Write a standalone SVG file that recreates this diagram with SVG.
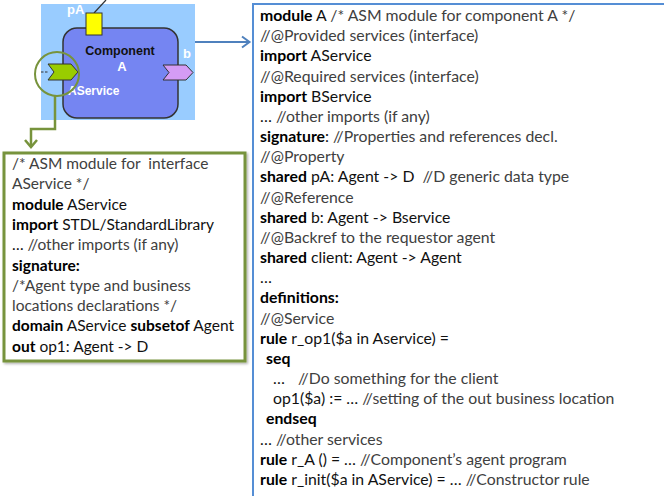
<svg xmlns="http://www.w3.org/2000/svg" width="664" height="496" viewBox="0 0 664 496">
  <defs>
    <style>
      .code { font-family: Lato, "Open Sans", sans-serif; font-size: 15.8px; fill: #111; white-space: pre; }
      .code.small { font-size: 15.5px; }
      .code .k { font-weight: bold; fill: #000; }
      .code .c { fill: #404040; }
      .lbl { font-family: "Liberation Sans", Arial, sans-serif; font-weight: bold; fill: #fff; }
      .green { stroke: #77933c; fill: none; }
      .blue { stroke: #4f81bd; fill: none; }
    </style>
    <filter id="shadow" x="-5%" y="-5%" width="115%" height="115%">
      <feDropShadow dx="1.5" dy="1.5" stdDeviation="1" flood-color="#000" flood-opacity="0.3"/>
    </filter>
  </defs>

  <!-- component A graphic -->
  <g id="component-a">
    <rect x="41" y="4" width="154" height="116" fill="#99ccff"/>
    <line x1="94" y1="13" x2="106" y2="0" stroke="#333" stroke-width="1.2"/>
    <rect x="63" y="28" width="115" height="90" rx="14" fill="#7585f2" stroke="#333" stroke-width="1.5"/>
    <rect x="86" y="13" width="16" height="22" fill="#ffff00" stroke="#333" stroke-width="1"/>
    <text class="lbl" x="67" y="14" font-size="13">pA</text>
    <text x="120" y="55" text-anchor="middle" font-family="Liberation Sans, Arial, sans-serif" font-weight="bold" font-size="12.5" fill="#111">Component</text>
    <text class="lbl" x="122" y="71" font-size="13" text-anchor="middle">A</text>
    <text class="lbl" x="183" y="58" font-size="13">b</text>
    <line x1="41" y1="72" x2="49" y2="72" stroke="#333" stroke-width="1" stroke-dasharray="2.5,1.5"/>
    <polygon points="48,64 71,64 78,72 71,80 48,80 54,72" fill="#99cc00" stroke="#333" stroke-width="1"/>
    <polygon points="163,65 186,65 193,72.5 186,80 163,80 169,72.5" fill="#d49cf5" stroke="#333" stroke-width="1"/>
    <text class="lbl" x="68" y="95" font-size="12">AService</text>
    <circle cx="57" cy="74" r="22" class="green" stroke-width="2"/>
  </g>

  <!-- connectors -->
  <g id="connectors">
    <polyline class="green" stroke-width="2.5" points="55,96 55,129 31,129 31,146"/>
    <polyline class="green" stroke-width="2.5" points="25,140 31,147 37,140"/>
    <line class="blue" stroke-width="2" x1="195" y1="42" x2="249" y2="42"/>
    <polyline class="blue" stroke-width="2" points="242,36.5 249.5,42 242,47.5"/>
  </g>

  <!-- ASM module for interface AService -->
  <g id="aservice-module">
    <rect x="4" y="153" width="241" height="208" fill="#fff" stroke="#77933c" stroke-width="3" filter="url(#shadow)"/>
    <text class="code small">
      <tspan x="12" y="169" class="c">/* ASM module for  interface</tspan>
      <tspan x="12" y="189.3" class="c">AService */</tspan>
      <tspan x="12" y="209.6"><tspan class="k">module</tspan> AService</tspan>
      <tspan x="12" y="229.9"><tspan class="k">import</tspan> STDL/StandardLibrary</tspan>
      <tspan x="12" y="250.2">… <tspan class="c">//other imports (if any)</tspan></tspan>
      <tspan x="12" y="270.5" class="k">signature:</tspan>
      <tspan x="12" y="290.8" class="c">/*Agent type and business</tspan>
      <tspan x="12" y="311.1" class="c">locations declarations */</tspan>
      <tspan x="12" y="331.4"><tspan class="k">domain</tspan> AService <tspan class="k">subsetof</tspan> Agent</tspan>
      <tspan x="12" y="351.7"><tspan class="k">out</tspan> op1: Agent -&gt; D</tspan>
    </text>
  </g>

  <!-- ASM module for component A -->
  <g id="component-a-module">
    <rect x="253" y="4" width="430" height="510" fill="none" stroke="#558ed5" stroke-width="2"/>
    <text class="code">
      <tspan x="260" y="21"><tspan class="k">module</tspan> A <tspan class="c">/* ASM module for component A */</tspan></tspan>
      <tspan x="260" y="41.2" class="c">//@Provided services (interface)</tspan>
      <tspan x="260" y="61.3"><tspan class="k">import</tspan> AService</tspan>
      <tspan x="260" y="81.5" class="c">//@Required services (interface)</tspan>
      <tspan x="260" y="101.7"><tspan class="k">import</tspan> BService</tspan>
      <tspan x="260" y="121.9">… <tspan class="c">//other imports (if any)</tspan></tspan>
      <tspan x="260" y="142"><tspan class="k">signature</tspan>: <tspan class="c">//Properties and references decl.</tspan></tspan>
      <tspan x="260" y="162.2" class="c">//@Property</tspan>
      <tspan x="260" y="182.4"><tspan class="k">shared</tspan> pA: Agent -&gt; D  <tspan class="c">//D generic data type</tspan></tspan>
      <tspan x="260" y="202.5" class="c">//@Reference</tspan>
      <tspan x="260" y="222.7"><tspan class="k">shared</tspan> b: Agent -&gt; Bservice</tspan>
      <tspan x="260" y="242.9" class="c">//@Backref to the requestor agent</tspan>
      <tspan x="260" y="263"><tspan class="k">shared</tspan> client: Agent -&gt; Agent</tspan>
      <tspan x="260" y="283.2">…</tspan>
      <tspan x="260" y="303.4" class="k">definitions:</tspan>
      <tspan x="260" y="323.6" class="c">//@Service</tspan>
      <tspan x="260" y="343.7"><tspan class="k">rule</tspan> r_op1($a in Aservice) =</tspan>
      <tspan x="266" y="363.9" class="k">seq</tspan>
      <tspan x="273" y="384.1">… <tspan x="298" class="c">//Do something for the client</tspan></tspan>
      <tspan x="273" y="404.2">op1($a) := … <tspan class="c">//setting of the out business location</tspan></tspan>
      <tspan x="266" y="424.4" class="k">endseq</tspan>
      <tspan x="260" y="444.6">… <tspan class="c">//other services</tspan></tspan>
      <tspan x="260" y="464.7"><tspan class="k">rule</tspan> r_A () = … <tspan class="c">//Component’s agent program</tspan></tspan>
      <tspan x="260" y="484.9"><tspan class="k">rule</tspan> r_init($a in AService) = … <tspan class="c">//Constructor rule</tspan></tspan>
    </text>
  </g>
</svg>
